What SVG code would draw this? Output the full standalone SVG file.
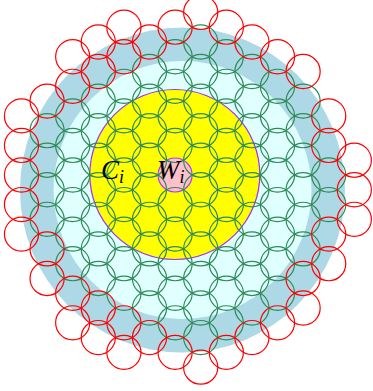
<svg xmlns="http://www.w3.org/2000/svg" width="373" height="391" viewBox="0 0 373 391">
<style>
.g{fill:none;stroke:#2e8b57;stroke-width:1.2}
.r{fill:none;stroke:#ff0000;stroke-width:1.2}
.t{font-family:"Liberation Serif","DejaVu Serif",serif;font-style:italic;fill:#000}
</style>
<rect width="373" height="391" fill="#ffffff"/>
<g id="outer-region"><circle cx="182.5" cy="190" r="162.5" fill="#add8e6"/></g>
<g id="inner-region"><circle cx="182.5" cy="190" r="129" fill="#e0ffff"/></g>
<g id="Ci"><circle cx="174.8" cy="174.5" r="85" fill="#ffff00" stroke="#9b30ff" stroke-width="1.2"/></g>
<g id="Wi"><circle cx="175.1" cy="175" r="17" fill="#ffc0cb" stroke="#b040e0" stroke-width="1.2"/></g>
<g id="cover-green">
<circle class="g" r="17.07" cx="47.1" cy="130.66"/><circle class="g" r="17.07" cx="47.1" cy="160.22"/><circle class="g" r="17.07" cx="47.1" cy="189.78"/><circle class="g" r="17.07" cx="47.1" cy="219.34"/>
<circle class="g" r="17.07" cx="72.7" cy="115.88"/><circle class="g" r="17.07" cx="72.7" cy="145.44"/><circle class="g" r="17.07" cx="72.7" cy="175"/><circle class="g" r="17.07" cx="72.7" cy="204.56"/><circle class="g" r="17.07" cx="72.7" cy="234.12"/><circle class="g" r="17.07" cx="72.7" cy="263.68"/>
<circle class="g" r="17.07" cx="98.3" cy="101.1"/><circle class="g" r="17.07" cx="98.3" cy="130.66"/><circle class="g" r="17.07" cx="98.3" cy="160.22"/><circle class="g" r="17.07" cx="98.3" cy="189.78"/><circle class="g" r="17.07" cx="98.3" cy="219.34"/><circle class="g" r="17.07" cx="98.3" cy="248.9"/><circle class="g" r="17.07" cx="98.3" cy="278.46"/>
<circle class="g" r="17.07" cx="123.9" cy="86.32"/><circle class="g" r="17.07" cx="123.9" cy="115.88"/><circle class="g" r="17.07" cx="123.9" cy="145.44"/><circle class="g" r="17.07" cx="123.9" cy="175"/><circle class="g" r="17.07" cx="123.9" cy="204.56"/><circle class="g" r="17.07" cx="123.9" cy="234.12"/><circle class="g" r="17.07" cx="123.9" cy="263.68"/><circle class="g" r="17.07" cx="123.9" cy="293.24"/>
<circle class="g" r="17.07" cx="149.5" cy="71.54"/><circle class="g" r="17.07" cx="149.5" cy="101.1"/><circle class="g" r="17.07" cx="149.5" cy="130.66"/><circle class="g" r="17.07" cx="149.5" cy="160.22"/><circle class="g" r="17.07" cx="149.5" cy="189.78"/><circle class="g" r="17.07" cx="149.5" cy="219.34"/><circle class="g" r="17.07" cx="149.5" cy="248.9"/><circle class="g" r="17.07" cx="149.5" cy="278.46"/><circle class="g" r="17.07" cx="149.5" cy="308.02"/>
<circle class="g" r="17.07" cx="175.1" cy="56.76"/><circle class="g" r="17.07" cx="175.1" cy="86.32"/><circle class="g" r="17.07" cx="175.1" cy="115.88"/><circle class="g" r="17.07" cx="175.1" cy="145.44"/><circle class="g" r="17.07" cx="175.1" cy="204.56"/><circle class="g" r="17.07" cx="175.1" cy="234.12"/><circle class="g" r="17.07" cx="175.1" cy="263.68"/><circle class="g" r="17.07" cx="175.1" cy="293.24"/><circle class="g" r="17.07" cx="175.1" cy="322.8"/>
<circle class="g" r="17.07" cx="200.7" cy="41.98"/><circle class="g" r="17.07" cx="200.7" cy="71.54"/><circle class="g" r="17.07" cx="200.7" cy="101.1"/><circle class="g" r="17.07" cx="200.7" cy="130.66"/><circle class="g" r="17.07" cx="200.7" cy="160.22"/><circle class="g" r="17.07" cx="200.7" cy="189.78"/><circle class="g" r="17.07" cx="200.7" cy="219.34"/><circle class="g" r="17.07" cx="200.7" cy="248.9"/><circle class="g" r="17.07" cx="200.7" cy="278.46"/><circle class="g" r="17.07" cx="200.7" cy="308.02"/><circle class="g" r="17.07" cx="200.7" cy="337.58"/>
<circle class="g" r="17.07" cx="226.3" cy="56.76"/><circle class="g" r="17.07" cx="226.3" cy="86.32"/><circle class="g" r="17.07" cx="226.3" cy="115.88"/><circle class="g" r="17.07" cx="226.3" cy="145.44"/><circle class="g" r="17.07" cx="226.3" cy="175"/><circle class="g" r="17.07" cx="226.3" cy="204.56"/><circle class="g" r="17.07" cx="226.3" cy="234.12"/><circle class="g" r="17.07" cx="226.3" cy="263.68"/><circle class="g" r="17.07" cx="226.3" cy="293.24"/><circle class="g" r="17.07" cx="226.3" cy="322.8"/>
<circle class="g" r="17.07" cx="251.9" cy="71.54"/><circle class="g" r="17.07" cx="251.9" cy="101.1"/><circle class="g" r="17.07" cx="251.9" cy="130.66"/><circle class="g" r="17.07" cx="251.9" cy="160.22"/><circle class="g" r="17.07" cx="251.9" cy="189.78"/><circle class="g" r="17.07" cx="251.9" cy="219.34"/><circle class="g" r="17.07" cx="251.9" cy="248.9"/><circle class="g" r="17.07" cx="251.9" cy="278.46"/><circle class="g" r="17.07" cx="251.9" cy="308.02"/>
<circle class="g" r="17.07" cx="277.5" cy="86.32"/><circle class="g" r="17.07" cx="277.5" cy="115.88"/><circle class="g" r="17.07" cx="277.5" cy="145.44"/><circle class="g" r="17.07" cx="277.5" cy="175"/><circle class="g" r="17.07" cx="277.5" cy="204.56"/><circle class="g" r="17.07" cx="277.5" cy="234.12"/><circle class="g" r="17.07" cx="277.5" cy="263.68"/><circle class="g" r="17.07" cx="277.5" cy="293.24"/>
<circle class="g" r="17.07" cx="303.1" cy="101.1"/><circle class="g" r="17.07" cx="303.1" cy="130.66"/><circle class="g" r="17.07" cx="303.1" cy="160.22"/><circle class="g" r="17.07" cx="303.1" cy="189.78"/><circle class="g" r="17.07" cx="303.1" cy="219.34"/><circle class="g" r="17.07" cx="303.1" cy="248.9"/>
<circle class="g" r="17.07" cx="328.7" cy="175"/><circle class="g" r="17.07" cx="328.7" cy="204.56"/>
</g>
<g id="cover-red">
<circle class="r" r="17.07" cx="21.5" cy="115.88"/><circle class="r" r="17.07" cx="21.5" cy="145.44"/><circle class="r" r="17.07" cx="21.5" cy="175"/><circle class="r" r="17.07" cx="21.5" cy="204.56"/><circle class="r" r="17.07" cx="21.5" cy="234.12"/>
<circle class="r" r="17.07" cx="47.1" cy="101.1"/><circle class="r" r="17.07" cx="47.1" cy="248.9"/><circle class="r" r="17.07" cx="47.1" cy="278.46"/>
<circle class="r" r="17.07" cx="72.7" cy="56.76"/><circle class="r" r="17.07" cx="72.7" cy="86.32"/><circle class="r" r="17.07" cx="72.7" cy="293.24"/><circle class="r" r="17.07" cx="72.7" cy="322.8"/>
<circle class="r" r="17.07" cx="98.3" cy="41.98"/><circle class="r" r="17.07" cx="98.3" cy="71.54"/><circle class="r" r="17.07" cx="98.3" cy="308.02"/><circle class="r" r="17.07" cx="98.3" cy="337.58"/>
<circle class="r" r="17.07" cx="123.9" cy="27.2"/><circle class="r" r="17.07" cx="123.9" cy="56.76"/><circle class="r" r="17.07" cx="123.9" cy="322.8"/><circle class="r" r="17.07" cx="123.9" cy="352.36"/>
<circle class="r" r="17.07" cx="149.5" cy="41.98"/><circle class="r" r="17.07" cx="149.5" cy="337.58"/>
<circle class="r" r="17.07" cx="175.1" cy="27.2"/><circle class="r" r="17.07" cx="175.1" cy="352.36"/>
<circle class="r" r="17.07" cx="200.7" cy="12.42"/><circle class="r" r="17.07" cx="200.7" cy="367.14"/>
<circle class="r" r="17.07" cx="226.3" cy="27.2"/><circle class="r" r="17.07" cx="226.3" cy="352.36"/>
<circle class="r" r="17.07" cx="251.9" cy="41.98"/><circle class="r" r="17.07" cx="251.9" cy="337.58"/>
<circle class="r" r="17.07" cx="277.5" cy="56.76"/><circle class="r" r="17.07" cx="277.5" cy="322.8"/>
<circle class="r" r="17.07" cx="303.1" cy="71.54"/><circle class="r" r="17.07" cx="303.1" cy="278.46"/><circle class="r" r="17.07" cx="303.1" cy="308.02"/>
<circle class="r" r="17.07" cx="328.7" cy="115.88"/><circle class="r" r="17.07" cx="328.7" cy="145.44"/><circle class="r" r="17.07" cx="328.7" cy="234.12"/><circle class="r" r="17.07" cx="328.7" cy="263.68"/>
<circle class="r" r="17.07" cx="354.3" cy="160.22"/><circle class="r" r="17.07" cx="354.3" cy="189.78"/><circle class="r" r="17.07" cx="354.3" cy="219.34"/>
</g>
<g id="labels">
<text class="t" x="101" y="179" font-size="27">C<tspan font-size="18" dy="4">i</tspan></text>
<text class="t" x="157" y="179" font-size="27">W<tspan font-size="18" dy="4">i</tspan></text>
</g>
</svg>
